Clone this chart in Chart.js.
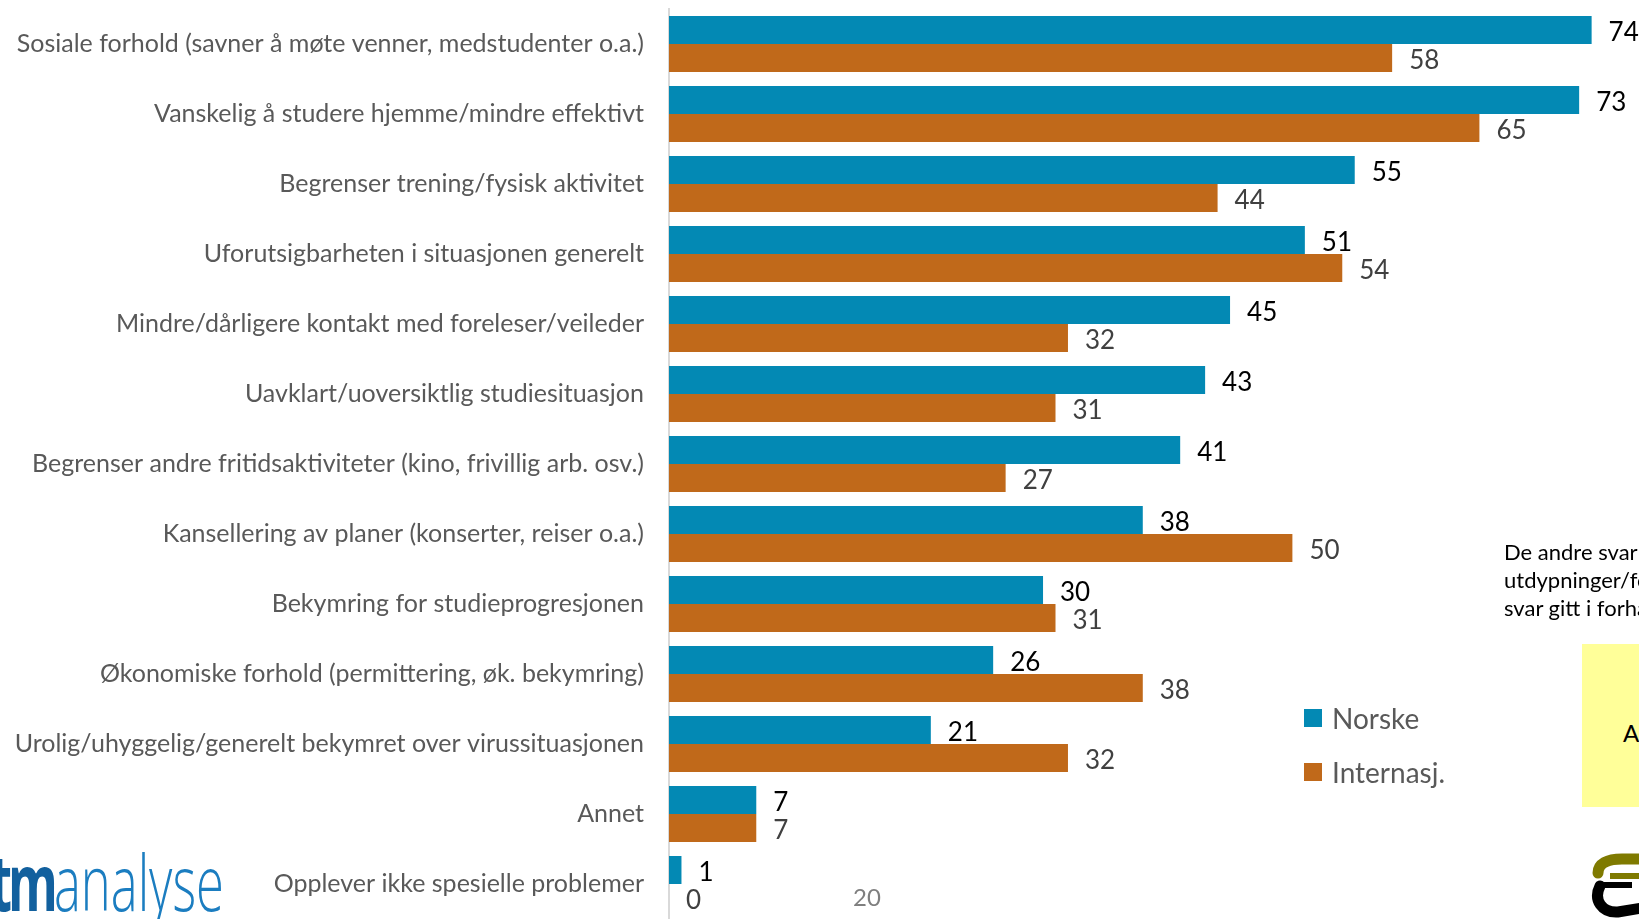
<!DOCTYPE html>
<html lang="no">
<head>
<meta charset="utf-8">
<title>Problemer under koronasituasjonen</title>
<script src="https://cdn.jsdelivr.net/npm/chart.js@4/dist/chart.umd.min.js"></script>
<style>
  html, body { margin: 0; padding: 0; background: #fff; overflow: hidden; }
  #wrap { position: relative; width: 1639px; height: 919px; overflow: hidden; background: #fff; }
  #chart { position: absolute; left: 0; top: 0; }
  #legend { position: absolute; left: 1304px; top: 700px; font-family: Lato, sans-serif; font-size: 28px; color: #595959; }
  #legend .item { position: relative; height: 54px; line-height: 36px; padding-left: 28px; white-space: nowrap; }
  #legend .sw { position: absolute; left: 0; top: 9px; width: 18px; height: 18px; }
  #note { position: absolute; left: 1504px; top: 538px; font-family: Lato, sans-serif; font-size: 22px; line-height: 28px; color: #000; white-space: nowrap; }
  #box { position: absolute; left: 1582px; top: 644px; width: 120px; height: 163px; background: #FFFF99; }
  #box span { position: absolute; left: 41px; top: 74px; font-family: Lato, sans-serif; font-size: 24px; color: #000; }
  #tick20 { position: absolute; left: 853px; top: 882px; font-family: Lato, sans-serif; font-size: 24px; color: #7F7F7F; }
  #logo { position: absolute; left: -10px; top: 826px; font-family: "Open Sans", sans-serif; font-size: 78px; line-height: 110px; white-space: nowrap; transform: scaleX(0.65); transform-origin: 0 0; }
  #logo .tm { font-weight: 700; color: #12609E; letter-spacing: -6px; }
  #logo .an { color: #1B7DC0; font-weight: 300; }
  #mark { position: absolute; left: 1580px; top: 840px; }
</style>
</head>
<body>
<div id="wrap">
  <canvas id="chart" width="1639" height="919"></canvas>
  <div id="legend"></div>
  <div id="note">De andre svar er i stor grad<br>utdypninger/forklaringer av<br>svar gitt i forhåndsdefinerte</div>
  <div id="box"><span>A</span></div>
  <div id="tick20">20</div>
  <div id="logo"><span class="tm">tm</span><span class="an">analyse</span></div>
  <svg id="mark" width="59" height="79" viewBox="0 0 59 79">
    <path d="M18 33 C18 24 27 19 42 19 L62 19" stroke="#7F7A00" stroke-width="11" fill="none" stroke-linecap="round"/>
    <rect x="30" y="33" width="32" height="6" fill="#7F7A00"/>
    <rect x="16" y="42" width="36" height="6" fill="#000"/>
    <path d="M20 46 C13 60 22 73 38 72 L62 68" stroke="#000" stroke-width="11" fill="none" stroke-linecap="round"/>
  </svg>
</div>
<script>
// Answer categories, top to bottom
const categories = [
  'Sosiale forhold (savner å møte venner, medstudenter o.a.)',
  'Vanskelig å studere hjemme/mindre effektivt',
  'Begrenser trening/fysisk aktivitet',
  'Uforutsigbarheten i situasjonen generelt',
  'Mindre/dårligere kontakt med foreleser/veileder',
  'Uavklart/uoversiktlig studiesituasjon',
  'Begrenser andre fritidsaktiviteter (kino, frivillig arb. osv.)',
  'Kansellering av planer (konserter, reiser o.a.)',
  'Bekymring for studieprogresjonen',
  'Økonomiske forhold (permittering, øk. bekymring)',
  'Urolig/uhyggelig/generelt bekymret over virussituasjonen',
  'Annet',
  'Opplever ikke spesielle problemer'
];

// Share of respondents (%)
const norske    = [74, 73, 55, 51, 45, 43, 41, 38, 30, 26, 21, 7, 1];
const internasj = [58, 65, 44, 54, 32, 31, 27, 50, 31, 38, 32, 7, 0];

const seriesNames  = ['Norske', 'Internasj.'];
const seriesColors = ['#0389B4', '#C0691A'];
const valueColors  = ['#000000', '#404040'];

const LABEL_FONT = 'Lato';

// Value printed just past the end of each bar
const valueLabels = {
  id: 'valueLabels',
  afterDatasetsDraw(chart) {
    const ctx = chart.ctx;
    chart.data.datasets.forEach((ds, i) => {
      const meta = chart.getDatasetMeta(i);
      meta.data.forEach((bar, j) => {
        ctx.save();
        ctx.font = '26px ' + LABEL_FONT;
        ctx.fillStyle = valueColors[i];
        ctx.textAlign = 'left';
        ctx.textBaseline = 'middle';
        ctx.fillText(String(ds.data[j]), bar.x + 17, bar.y + 3);
        ctx.restore();
      });
    });
  }
};

function draw() {
  const chart = new Chart(document.getElementById('chart'), {
    type: 'bar',
    data: {
      labels: categories,
      datasets: [
        { label: seriesNames[0], data: norske,    backgroundColor: seriesColors[0] },
        { label: seriesNames[1], data: internasj, backgroundColor: seriesColors[1] }
      ]
    },
    options: {
      indexAxis: 'y',
      responsive: false,
      animation: false,
      events: [],
      categoryPercentage: 0.8,
      barPercentage: 1.0,
      layout: { padding: { top: 9, right: 0, bottom: 0, left: 0 } },
      plugins: { legend: { display: false }, tooltip: { enabled: false } },
      scales: {
        x: { display: false, min: 0, max: 77.8 },
        y: {
          grid: { display: false, drawTicks: false },
          border: { display: true, color: '#D9D9D9', width: 2 },
          ticks: { color: '#595959', font: { family: LABEL_FONT, size: 25 }, padding: 25, autoSkip: false },
          afterFit(scale) {
            scale.width = 669;
            // labels sit in the middle of each band, no extra room needed above/below
            scale.paddingTop = 0;
            scale.paddingBottom = 0;
          }
        }
      }
    },
    plugins: [valueLabels]
  });

  // Legend built from the chart's own datasets
  document.getElementById('legend').innerHTML = chart.data.datasets.map(ds =>
    '<div class="item"><span class="sw" style="background:' + ds.backgroundColor + '"></span>' + ds.label + '</div>'
  ).join('');
}

Promise.all([
  document.fonts.load('25px Lato'),
  document.fonts.load('26px Lato'),
  document.fonts.load('300 78px "Open Sans"'),
  document.fonts.load('bold 78px "Open Sans"')
]).then(draw, draw);
</script>
</body>
</html>
